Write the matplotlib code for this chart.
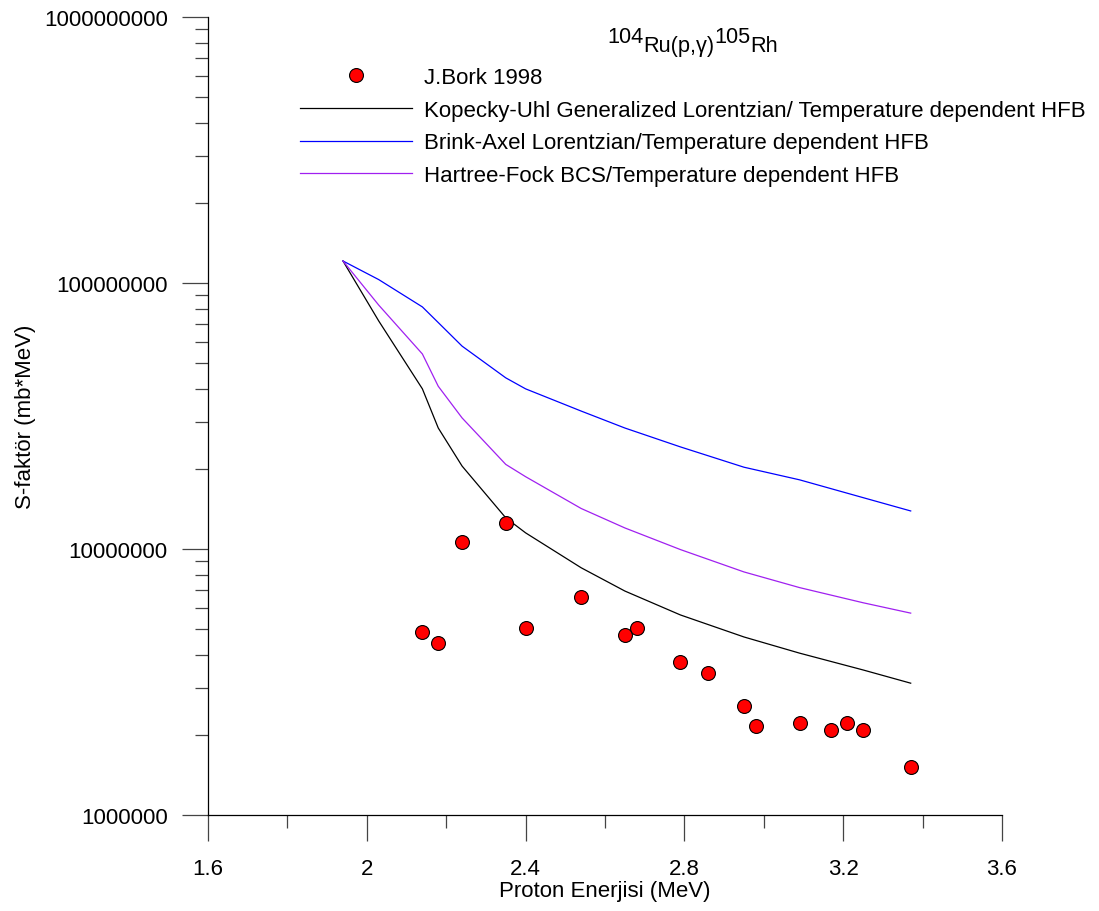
import numpy as np
import matplotlib
matplotlib.use("Agg")
import matplotlib.pyplot as plt
from matplotlib.ticker import FixedLocator, FuncFormatter, LogLocator, NullFormatter

plt.rcParams["font.family"] = ["Liberation Sans", "DejaVu Sans"]

# experimental data (J.Bork 1998)
exp_energy = [2.14, 2.18, 2.24, 2.35, 2.40, 2.54, 2.65, 2.68, 2.79, 2.86,
              2.95, 2.98, 3.09, 3.17, 3.21, 3.25, 3.37]
exp_sfactor = [4.87e6, 4.43e6, 1.06e7, 1.25e7, 5.05e6, 6.62e6, 4.76e6, 5.06e6,
               3.77e6, 3.42e6, 2.58e6, 2.17e6, 2.22e6, 2.09e6, 2.22e6, 2.09e6, 1.51e6]

# model curves
theory_energy = [1.94, 2.03, 2.14, 2.18, 2.24, 2.35, 2.40, 2.54, 2.65, 2.79,
                 2.95, 3.09, 3.25, 3.37]
ku_hfb = [1.21e8, 7.2e7, 4.0e7, 2.85e7, 2.05e7, 1.31e7, 1.15e7, 8.5e6, 6.95e6,
          5.65e6, 4.67e6, 4.06e6, 3.51e6, 3.13e6]
ba_hfb = [1.21e8, 1.03e8, 8.13e7, 7.1e7, 5.79e7, 4.40e7, 4.0e7, 3.30e7, 2.85e7,
          2.42e7, 2.03e7, 1.82e7, 1.56e7, 1.39e7]
hfbcs_hfb = [1.21e8, 8.26e7, 5.41e7, 4.09e7, 3.11e7, 2.08e7, 1.87e7, 1.42e7,
             1.20e7, 9.95e6, 8.2e6, 7.16e6, 6.28e6, 5.74e6]

labels = ["J.Bork 1998",
          "Kopecky-Uhl Generalized Lorentzian/ Temperature dependent HFB",
          "Brink-Axel Lorentzian/Temperature dependent HFB",
          "Hartree-Fock BCS/Temperature dependent HFB"]

# title pieces: (text, raised?)
title_parts = [("104", True), ("Ru(p,γ)", False), ("105", True), ("Rh", False)]

fs = 16
W, H = 1099, 912
fig = plt.figure(figsize=(W / 100, H / 100), dpi=100)
ax = fig.add_axes([208 / W, 96 / H, 794 / W, 798 / H])

ax.plot(exp_energy, exp_sfactor, "o", color="red", markeredgecolor="black",
        markeredgewidth=0.8, markersize=10, label=labels[0], zorder=5)
ax.plot(theory_energy, ku_hfb, color="black", lw=0.9, label=labels[1])
ax.plot(theory_energy, ba_hfb, color="blue", lw=0.9, label=labels[2])
ax.plot(theory_energy, hfbcs_hfb, color="#a020f0", lw=0.9, label=labels[3])

ax.set_yscale("log")
ax.set_xlim(1.6, 3.6)
ax.set_ylim(1e6, 1e9)

ax.xaxis.set_major_locator(FixedLocator([1.6, 2.0, 2.4, 2.8, 3.2, 3.6]))
ax.xaxis.set_minor_locator(FixedLocator([1.8, 2.2, 2.6, 3.0, 3.4]))
ax.xaxis.set_major_formatter(FuncFormatter(lambda v, p: f"{v:g}"))
ax.yaxis.set_major_locator(FixedLocator([1e6, 1e7, 1e8, 1e9]))
ax.yaxis.set_minor_locator(LogLocator(base=10, subs=np.arange(2, 10)))
ax.yaxis.set_major_formatter(FuncFormatter(lambda v, p: f"{int(round(v))}"))
ax.yaxis.set_minor_formatter(NullFormatter())

ax.tick_params(which="major", length=19, width=0.9, color="#444444",
               labelsize=fs, pad=10)
ax.tick_params(which="minor", length=9.5, width=0.9, color="#444444")
ax.tick_params(axis="x", which="major", pad=12)

for s in ["top", "right"]:
    ax.spines[s].set_visible(False)
for s in ["left", "bottom"]:
    ax.spines[s].set_linewidth(0.9)

ax.set_xlabel("Proton Enerjisi (MeV)", fontsize=fs, labelpad=1)
ax.set_ylabel("S-faktör (mb*MeV)", fontsize=fs, labelpad=6)

ax.legend(loc="upper left", bbox_to_anchor=(0.1159, 0.937), frameon=False,
          fontsize=fs, handlelength=5.05, handletextpad=0.52,
          labelspacing=0.52, borderaxespad=0, borderpad=0)

# title with full-size raised mass numbers, placed piece by piece
renderer = fig.canvas.get_renderer()
x_px = 607
for txt, up in title_parts:
    y_px = 43 if up else 52
    t = fig.text(x_px / W, 1 - y_px / H, txt, fontsize=15.7, ha="left",
                 va="baseline")
    x_px += t.get_window_extent(renderer).width

fig.savefig("out.png", dpi=100)
